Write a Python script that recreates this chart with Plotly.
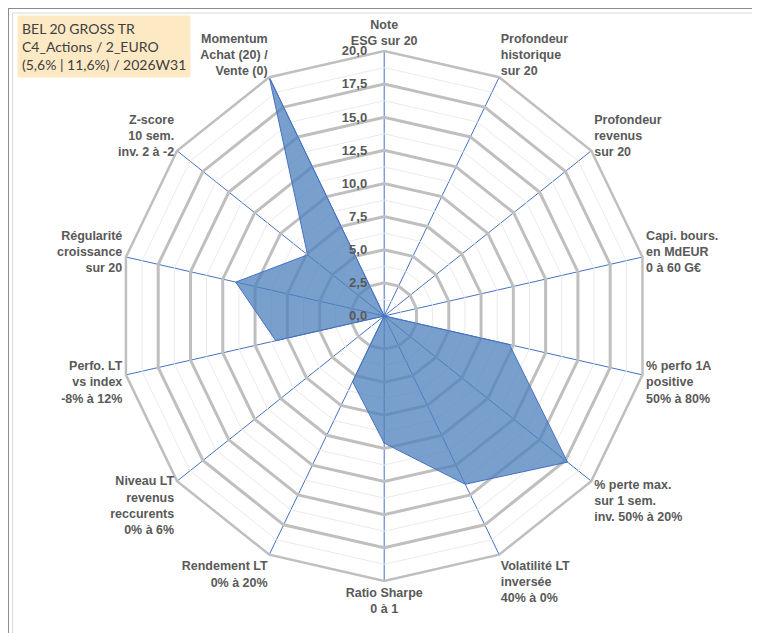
import plotly.graph_objects as go

# Axes of the radar, clockwise from the top
categories = [
    "Note<br>ESG sur 20",
    "Profondeur<br>historique<br>sur 20",
    "Profondeur<br>revenus<br>sur 20",
    "Capi. bours.<br>en MdEUR<br>0 à 60 G€",
    "% perfo 1A<br>positive<br>50% à 80%",
    "% perte max.<br>sur 1 sem.<br>inv. 50% à 20%",
    "Volatilité LT<br>inversée<br>40% à 0%",
    "Ratio Sharpe<br>0 à 1",
    "Rendement LT<br>0% à 20%",
    "Niveau LT<br>revenus<br>reccurents<br>0% à 6%",
    "Perfo. LT<br>vs index<br>-8% à 12%",
    "Régularité<br>croissance<br>sur 20",
    "Z-score<br>10 sem.<br>inv. 2 à -2",
    "Momentum<br>Achat (20) /<br>Vente (0)",
]
scores = [0, 0, 0, 0, 9.7, 17.7, 14.1, 9.6, 5.5, 0, 8.4, 11.5, 7.4, 20]

major_ticks = [0, 2.5, 5, 7.5, 10, 12.5, 15, 17.5, 20]
minor_levels = [1.25, 3.75, 6.25, 8.75, 11.25, 13.75, 16.25, 18.75]

title_text = "BEL 20 GROSS TR<br>C4_Actions / 2_EURO<br>(5,6% | 11,6%) / 2026W31"

grey_txt = "#595959"
blue = "#4472C4"

fig = go.Figure()

# light minor grid polygons
for lvl in minor_levels:
    fig.add_trace(go.Scatterpolar(
        r=[lvl] * (len(categories) + 1),
        theta=categories + categories[:1],
        mode="lines",
        line=dict(color="#EAEAEA", width=1),
        hoverinfo="skip",
        showlegend=False,
    ))

fig.add_trace(go.Scatterpolar(
    r=scores + scores[:1],
    theta=categories + categories[:1],
    mode="lines",
    fill="toself",
    fillcolor="rgba(79,129,189,0.76)",
    line=dict(color=blue, width=1),
    showlegend=False,
))

fig.update_layout(
    width=760,
    height=633,
    margin=dict(l=0, r=0, t=0, b=0),
    paper_bgcolor="white",
    separators=", ",
    font=dict(family="Liberation Sans, Arial", color=grey_txt),
    polar=dict(
        domain=dict(x=[0.146, 0.844], y=[0.095, 0.932]),
        bgcolor="white",
        gridshape="linear",
        radialaxis=dict(
            range=[0, 20],
            tickvals=major_ticks,
            tickformat=".1f",
            angle=90,
            tickangle=90,
            side="counterclockwise",
            showline=False,
            ticks="outside",
            ticklen=12,
            tickcolor="rgba(0,0,0,0)",
            gridcolor="#BFBFBF",
            gridwidth=2.5,
            tickfont=dict(size=13, color=grey_txt, weight="bold"),
        ),
        angularaxis=dict(
            direction="clockwise",
            rotation=90,
            gridcolor=blue,
            gridwidth=1,
            linecolor="#BFBFBF",
            linewidth=2.5,
            ticks="",
            tickfont=dict(size=12.5, color=grey_txt, weight="bold"),
        ),
    ),
    shapes=[
        dict(type="rect", xref="paper", yref="paper", x0=0, y0=0, x1=1, y1=1,
             line=dict(color="#8C8C8C", width=2)),
        dict(type="rect", xref="paper", yref="paper",
             x0=0.006, y0=0.008, x1=0.994, y1=0.992,
             line=dict(color="#D9D9D9", width=1)),
    ],
    annotations=[
        dict(
            text=title_text,
            xref="paper", yref="paper",
            x=0.012, y=0.989, xanchor="left", yanchor="top",
            align="left", showarrow=False,
            bgcolor="#FDE9C4",
            borderpad=4,
            font=dict(family="Lato, Liberation Sans", size=14, color="#404040"),
        )
    ],
)

fig.write_html("out.html")
